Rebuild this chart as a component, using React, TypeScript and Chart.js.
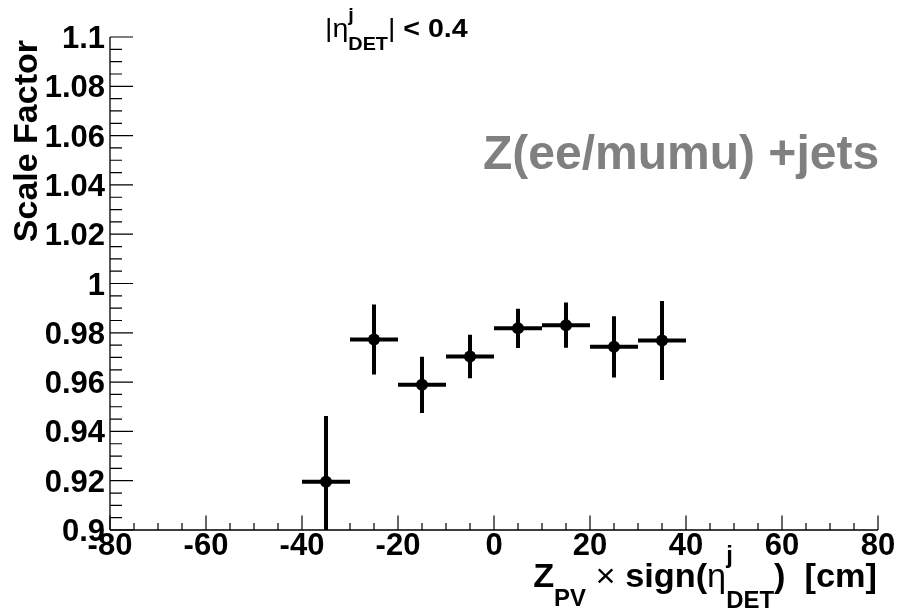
import React, { useEffect, useRef } from 'react';
import { Chart, registerables } from 'chart.js';

Chart.register(...registerables);

// Z_PV x sign(eta) bins (cm) and the measured scale factors
const binCenters = [-35, -25, -15, -5, 5, 15, 25, 35];
const binHalfWidths = [5, 5, 5, 5, 5, 5, 5, 5];
const scaleFactors = [0.9196, 0.9773, 0.9589, 0.9704, 0.9818, 0.9831, 0.9743, 0.9769];
const scaleFactorErrors = [0.0266, 0.0142, 0.0114, 0.0088, 0.008, 0.0092, 0.0124, 0.016];

// axis ticks
const xTickValues = [-80, -60, -40, -20, 0, 20, 40, 60, 80];
const xTickLabels = ['-80', '-60', '-40', '-20', '0', '20', '40', '60', '80'];
const yTickValues = [0.9, 0.92, 0.94, 0.96, 0.98, 1.0, 1.02, 1.04, 1.06, 1.08, 1.1];
const yTickLabels = ['0.9', '0.92', '0.94', '0.96', '0.98', '1', '1.02', '1.04', '1.06', '1.08', '1.1'];
const xMinorStep = 5;
const yMinorStep = 0.005;

const X_MIN = -80;
const X_MAX = 80;
const Y_MIN = 0.9;
const Y_MAX = 1.1;

type Run = { t: string; size: number; bold?: boolean; dy?: number; noAdvance?: boolean };

const FAMILY = '"Liberation Sans", Arial, Helvetica, sans-serif';
const fontOf = (size: number, bold?: boolean) => `${bold ? 'bold ' : ''}${size}px ${FAMILY}`;

function runsWidth(ctx: CanvasRenderingContext2D, runs: Run[]): number {
  let w = 0;
  for (const r of runs) {
    ctx.font = fontOf(r.size, r.bold);
    if (!r.noAdvance) w += ctx.measureText(r.t).width;
  }
  return w;
}

// Draws a line of mixed text (sub/superscripts) with an optional horizontal stretch
function drawRuns(
  ctx: CanvasRenderingContext2D,
  runs: Run[],
  x: number,
  y: number,
  align: 'left' | 'right',
  hScale = 1,
  color = '#000'
) {
  ctx.save();
  ctx.translate(x, y);
  ctx.scale(hScale, 1);
  const total = runsWidth(ctx, runs);
  let cx = align === 'right' ? -total : 0;
  ctx.fillStyle = color;
  ctx.textAlign = 'left';
  ctx.textBaseline = 'alphabetic';
  for (const r of runs) {
    ctx.font = fontOf(r.size, r.bold);
    ctx.fillText(r.t, cx, r.dy ?? 0);
    if (!r.noAdvance) cx += ctx.measureText(r.t).width;
  }
  ctx.restore();
}

const errorBarsAndFrame = {
  id: 'errorBarsAndFrame',
  beforeDatasetsDraw(chart: Chart) {
    const { ctx, chartArea: a } = chart;
    const xs = chart.scales.x;
    const ys = chart.scales.y;
    ctx.save();
    ctx.beginPath();
    ctx.rect(a.left, a.top, a.right - a.left, a.bottom - a.top);
    ctx.clip();
    ctx.strokeStyle = '#000';
    ctx.lineWidth = 4;
    ctx.lineCap = 'butt';
    binCenters.forEach((c, i) => {
      const v = scaleFactors[i];
      const e = scaleFactorErrors[i];
      const hw = binHalfWidths[i];
      const px = xs.getPixelForValue(c);
      const py = ys.getPixelForValue(v);
      ctx.beginPath();
      ctx.moveTo(xs.getPixelForValue(c - hw), py);
      ctx.lineTo(xs.getPixelForValue(c + hw), py);
      ctx.moveTo(px, ys.getPixelForValue(v - e));
      ctx.lineTo(px, ys.getPixelForValue(v + e));
      ctx.stroke();
    });
    ctx.restore();
  },
  afterDraw(chart: Chart) {
    const { ctx, chartArea: a } = chart;
    const xs = chart.scales.x;
    const ys = chart.scales.y;
    ctx.save();
    ctx.strokeStyle = '#000';
    ctx.lineWidth = 1.3;

    // axis lines
    ctx.beginPath();
    ctx.moveTo(a.left, a.bottom);
    ctx.lineTo(a.right, a.bottom);
    ctx.moveTo(a.left, a.top);
    ctx.lineTo(a.left, a.bottom);
    ctx.stroke();

    // x ticks pointing into the plot
    ctx.lineWidth = 1.2;
    ctx.beginPath();
    for (let v = X_MIN; v <= X_MAX + 1e-9; v += xMinorStep) {
      const major = Math.abs(v % 20) < 1e-9;
      const px = xs.getPixelForValue(v);
      ctx.moveTo(px, a.bottom);
      ctx.lineTo(px, a.bottom - (major ? 14.5 : 7));
    }
    // y ticks pointing into the plot
    const nMinor = Math.round((Y_MAX - Y_MIN) / yMinorStep);
    for (let k = 0; k <= nMinor; k++) {
      const v = Y_MIN + k * yMinorStep;
      const major = k % 4 === 0;
      const py = ys.getPixelForValue(v);
      ctx.moveTo(a.left, py);
      ctx.lineTo(a.left + (major ? 23 : 12), py);
    }
    ctx.stroke();

    // tick labels
    ctx.fillStyle = '#000';
    ctx.font = fontOf(31, true);
    ctx.textBaseline = 'alphabetic';
    ctx.textAlign = 'right';
    yTickValues.forEach((v, i) => {
      ctx.fillText(yTickLabels[i], a.left - 5, ys.getPixelForValue(v) + 11);
    });
    ctx.textAlign = 'center';
    xTickValues.forEach((v, i) => {
      ctx.fillText(xTickLabels[i], xs.getPixelForValue(v), a.bottom + 25);
    });

    // y-axis title
    ctx.save();
    ctx.translate(37, a.top + 3);
    ctx.rotate(-Math.PI / 2);
    ctx.font = fontOf(34, true);
    ctx.textAlign = 'right';
    ctx.fillText('Scale Factor', 0, 0);
    ctx.restore();

    // x-axis title
    drawRuns(
      ctx,
      [
        { t: 'Z', size: 33, bold: true },
        { t: 'PV', size: 23, bold: true, dy: 19 },
        { t: ' \u00d7 ', size: 33 },
        { t: 'sign(', size: 33, bold: true },
        { t: '\u03b7', size: 33 },
        { t: 'j', size: 23, bold: true, dy: -24, noAdvance: true },
        { t: 'DET', size: 23, bold: true, dy: 21 },
        { t: ')', size: 33, bold: true },
        { t: '  [cm]', size: 33, bold: true },
      ],
      a.right - 1,
      587,
      'right',
      1.04
    );

    // pseudorapidity selection
    drawRuns(
      ctx,
      [
        { t: '|', size: 26 },
        { t: '\u03b7', size: 26 },
        { t: 'j', size: 18, bold: true, dy: -16, noAdvance: true },
        { t: 'DET', size: 18, bold: true, dy: 13 },
        { t: '|', size: 26 },
        { t: ' < 0.4', size: 26, bold: true },
      ],
      325,
      37,
      'left',
      1.1
    );

    // process label
    ctx.font = fontOf(48, true);
    ctx.fillStyle = '#808080';
    ctx.textAlign = 'left';
    ctx.fillText('Z(ee/mumu) +jets', 483, 169);

    ctx.restore();
  },
};

export default function App() {
  const canvasRef = useRef<HTMLCanvasElement | null>(null);

  useEffect(() => {
    const canvas = canvasRef.current;
    if (!canvas) return;
    const chart = new Chart(canvas, {
      type: 'scatter',
      data: {
        datasets: [
          {
            label: 'Scale Factor',
            data: binCenters.map((c, i) => ({ x: c, y: scaleFactors[i] })),
            pointRadius: 6,
            pointHoverRadius: 6,
            pointBackgroundColor: '#000',
            pointBorderColor: '#000',
            pointBorderWidth: 0,
            showLine: false,
          },
        ],
      },
      options: {
        responsive: false,
        animation: false,
        devicePixelRatio: 1,
        layout: { padding: { left: 110, top: 37, right: 22, bottom: 82 } },
        plugins: {
          legend: { display: false },
          tooltip: { enabled: false },
        },
        scales: {
          x: { type: 'linear', display: false, min: X_MIN, max: X_MAX },
          y: { type: 'linear', display: false, min: Y_MIN, max: Y_MAX },
        },
      },
      plugins: [errorBarsAndFrame],
    });
    return () => chart.destroy();
  }, []);

  return (
    <div style={{ position: 'fixed', left: 0, top: 0, width: 900, height: 612, background: '#fff' }}>
      <canvas ref={canvasRef} width={900} height={612} style={{ display: 'block' }} />
    </div>
  );
}
